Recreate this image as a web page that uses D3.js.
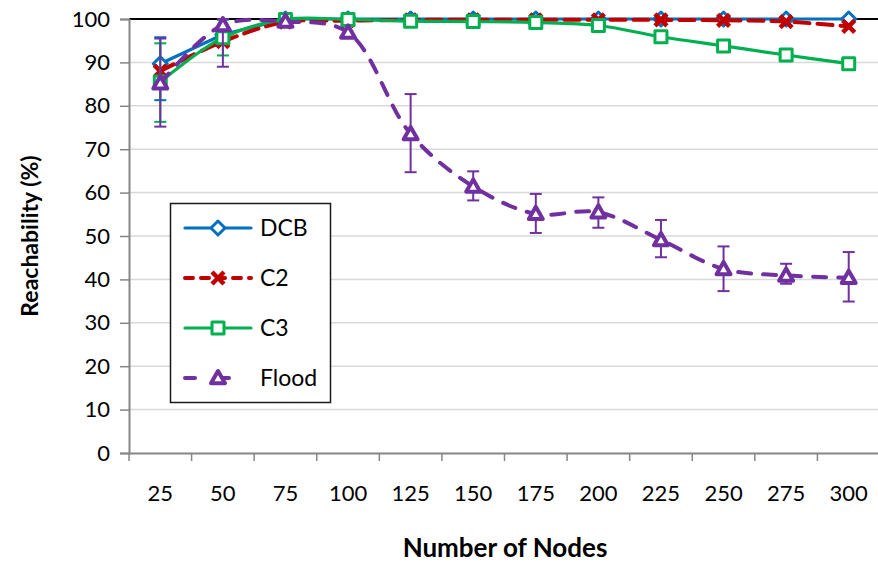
<!DOCTYPE html>
<html>
<head>
<meta charset="utf-8">
<script src="https://cdn.jsdelivr.net/npm/d3@7"></script>
<style>
  html, body { margin: 0; padding: 0; background: #fff; }
  svg { display: block; font-family: Lato, "Open Sans", sans-serif; }
</style>
</head>
<body>
<div id="chart"></div>
<script>
// Данные
const nodes = [25, 50, 75, 100, 125, 150, 175, 200, 225, 250, 275, 300];
const yTicks = [0, 10, 20, 30, 40, 50, 60, 70, 80, 90, 100];

const dcb = [89.7, 96.4, 100, 100, 100, 100, 100, 100, 100, 100, 100, 100];
const c2 = [88.0, 94.8, 99.3, 99.6, 99.8, 99.8, 99.8, 99.8, 99.8, 99.7, 99.4, 98.3];
const c3 = [85.5, 95.7, 99.9, 99.9, 99.5, 99.4, 99.2, 98.5, 95.9, 93.8, 91.7, 89.7];
const flood = [85.2, 98.6, 99.4, 96.9, 73.5, 61.4, 55.1, 55.5, 49.1, 42.4, 40.9, 40.4];

// Планки погрешностей (нижняя / верхняя граница), null - нет планки
const dcbLow = [81.3, null, null, null, null, null, null, null, null, null, null, null];
const dcbHigh = [95.8, null, null, null, null, null, null, null, null, null, null, null];
const c3Low = [76.3, 91.6, null, null, null, null, null, null, null, null, null, null];
const c3High = [94.4, 99.8, null, null, null, null, null, null, null, null, null, null];
const floodLow = [75.2, 89.0, null, null, 64.7, 58.2, 50.7, 51.9, 45.1, 37.3, 39.0, 34.9];
const floodHigh = [95.5, 100, null, null, 82.7, 64.9, 59.7, 58.9, 53.7, 47.6, 43.6, 46.3];

const W = 878, H = 563;
const margin = { top: 19, right: -2, bottom: 110, left: 129 };

const svg = d3.select('#chart').append('svg')
    .attr('width', W)
    .attr('height', H);

const x = d3.scaleBand()
    .domain(nodes)
    .range([margin.left, W - margin.right]);

const y = d3.scaleLinear()
    .domain([0, 100])
    .range([H - margin.bottom, margin.top]);

const cx = d => x(d) + x.bandwidth() / 2;

// Сетка
svg.append('g')
    .selectAll('line')
    .data(yTicks.filter(t => t > 0))
    .join('line')
    .attr('x1', margin.left)
    .attr('x2', W)
    .attr('y1', d => y(d))
    .attr('y2', d => y(d))
    .attr('stroke', d => d === 100 ? '#000' : '#d9d9d9')
    .attr('stroke-width', d => d === 100 ? 2 : 1.5);

// Оси
const yAxis = svg.append('g')
    .attr('transform', `translate(${margin.left},0)`)
    .call(d3.axisLeft(y).tickValues(yTicks).tickSize(9).tickPadding(10));
const xAxis = svg.append('g')
    .attr('transform', `translate(0,${y(0)})`)
    .call(d3.axisBottom(x).tickSize(0).tickPadding(32));

[yAxis, xAxis].forEach(g => {
    g.select('.domain').attr('stroke', '#868686').attr('stroke-width', 2);
    g.selectAll('.tick line').attr('stroke', '#868686').attr('stroke-width', 1.5);
    g.selectAll('text')
        .attr('fill', '#000')
        .attr('font-size', '22px')
        .attr('font-family', 'Lato, sans-serif');
});

// Засечки на границах категорий по оси X
svg.append('g')
    .selectAll('line')
    .data(nodes)
    .join('line')
    .attr('x1', d => x(d))
    .attr('x2', d => x(d))
    .attr('y1', y(0))
    .attr('y2', y(0) + 8)
    .attr('stroke', '#868686')
    .attr('stroke-width', 1.5);

// Подписи осей
svg.append('text')
    .attr('x', 505)
    .attr('y', 557)
    .attr('text-anchor', 'middle')
    .attr('font-size', '26px')
    .attr('font-weight', 'bold')
    .text('Number of Nodes');

svg.append('text')
    .attr('transform', `translate(38,${(y(0) + y(100)) / 2}) rotate(-90)`)
    .attr('text-anchor', 'middle')
    .attr('font-size', '23px')
    .attr('font-weight', 'bold')
    .text('Reachability (%)');

// Маркеры
const markerPath = {
    diamond: s => `M0,${-s}L${s},0L0,${s}L${-s},0Z`,
    cross: s => `M${-s},${-s}L${s},${s}M${s},${-s}L${-s},${s}`,
    square: s => `M${-s},${-s}H${s}V${s}H${-s}Z`,
    triangle: s => `M0,${-s}L${s},${s * 0.75}H${-s}Z`
};

const series = [
    { name: 'DCB', values: dcb, low: dcbLow, high: dcbHigh, color: '#0070c0', dash: null, legendDash: null, marker: 'diamond', size: 7, curve: d3.curveLinear },
    { name: 'C2', values: c2, low: null, high: null, color: '#c00000', dash: '15,8', legendDash: '8,8', marker: 'cross', size: 6, curve: d3.curveCatmullRom.alpha(0.5) },
    { name: 'C3', values: c3, low: c3Low, high: c3High, color: '#00b050', dash: null, legendDash: null, marker: 'square', size: 6, curve: d3.curveCatmullRom.alpha(0.5) },
    { name: 'Flood', values: flood, low: floodLow, high: floodHigh, color: '#7030a0', dash: '13,12', legendDash: '10,24', marker: 'triangle', size: 7, curve: d3.curveCatmullRom.alpha(0.5) }
];

function drawMarker(g, s) {
    const p = g.append('path')
        .attr('d', markerPath[s.marker](s.size))
        .attr('stroke', s.color)
        .attr('stroke-linejoin', 'round');
    if (s.marker === 'cross') {
        p.attr('fill', 'none').attr('stroke-width', 4.5);
    } else {
        p.attr('fill', '#fff').attr('stroke-width', s.marker === 'triangle' ? 4 : 3);
    }
}

series.forEach(s => {
    const g = svg.append('g').attr('class', 'series');

    // Планки погрешностей
    if (s.low) {
        const idx = nodes.map((n, i) => i).filter(i => s.low[i] != null);
        const eb = g.append('g').attr('stroke', s.color).attr('stroke-width', 2);
        idx.forEach(i => {
            const xc = cx(nodes[i]);
            eb.append('line').attr('x1', xc).attr('x2', xc)
                .attr('y1', y(s.low[i])).attr('y2', y(s.high[i]));
            [s.low[i], s.high[i]].forEach(v => {
                eb.append('line').attr('x1', xc - 6).attr('x2', xc + 6)
                    .attr('y1', y(v)).attr('y2', y(v));
            });
        });
    }

    const line = d3.line()
        .x((d, i) => cx(nodes[i]))
        .y(d => y(d))
        .curve(s.curve);

    g.append('path')
        .datum(s.values)
        .attr('d', line)
        .attr('fill', 'none')
        .attr('stroke', s.color)
        .attr('stroke-width', s.dash ? 4 : 3.2)
        .attr('stroke-linecap', 'round')
        .attr('stroke-dasharray', s.dash);

    s.values.forEach((v, i) => {
        drawMarker(g.append('g').attr('transform', `translate(${cx(nodes[i])},${y(v)})`), s);
    });
});

// Легенда
const legend = svg.append('g');
legend.append('rect')
    .attr('x', 170.5)
    .attr('y', 203.5)
    .attr('width', 160)
    .attr('height', 199)
    .attr('fill', '#fff')
    .attr('stroke', '#1a1a1a')
    .attr('stroke-width', 1.5);

series.forEach((s, i) => {
    const ly = 228 + i * 50;
    const item = legend.append('g');
    item.append('line')
        .attr('x1', 185).attr('x2', 251)
        .attr('y1', ly).attr('y2', ly)
        .attr('stroke', s.color)
        .attr('stroke-width', s.dash ? 4 : 3.2)
        .attr('stroke-linecap', 'round')
        .attr('stroke-dasharray', s.legendDash);
    drawMarker(item.append('g').attr('transform', `translate(218,${ly})`), s);
    item.append('text')
        .attr('x', 260)
        .attr('y', ly)
        .attr('dy', '0.35em')
        .attr('font-size', '23px')
        .text(s.name);
});
</script>
</body>
</html>
